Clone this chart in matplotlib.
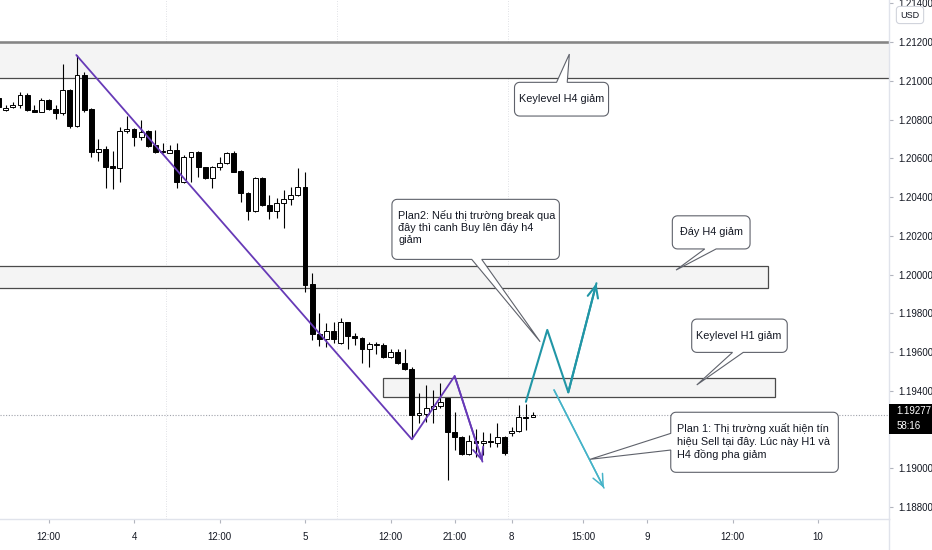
import numpy as np
import matplotlib
matplotlib.use("Agg")
import matplotlib.pyplot as plt
from matplotlib.patches import Rectangle, Polygon
from matplotlib.lines import Line2D
import matplotlib.transforms as mtransforms

plt.rcParams['font.family'] = ['Liberation Sans Narrow', 'Liberation Sans', 'DejaVu Sans']

# hourly bars, index 0 = day 4 00:00
bars = list(range(-19, 57))
opens = [1.20909, 1.20849, 1.20863, 1.20875, 1.20926, 1.20849, 1.20840, 1.20901,
         1.20853, 1.20835, 1.20952, 1.20766, 1.21030, 1.20853, 1.20634, 1.20646,
         1.20560, 1.20548, 1.20741, 1.20749, 1.20711, 1.20741, 1.20668, 1.20631,
         1.20629, 1.20643, 1.20479, 1.20608, 1.20634, 1.20553, 1.20496, 1.20556,
         1.20574, 1.20626, 1.20534, 1.20419, 1.20329, 1.20496, 1.20359, 1.20329,
         1.20371, 1.20390, 1.20410, 1.20450, 1.19949, 1.19691, 1.19666, 1.19708,
         1.19645, 1.19753, 1.19684, 1.19674, 1.19614, 1.19635, 1.19636, 1.19573,
         1.19602, 1.19542, 1.19511, 1.19275, 1.19280, 1.19306, 1.19323, 1.19361,
         1.19189, 1.19163, 1.19072, 1.19142, 1.19129, 1.19139, 1.19129, 1.19163,
         1.19180, 1.19194, 1.19266, 1.19266]
highs = [1.20921, 1.20875, 1.20892, 1.20943, 1.20935, 1.20875, 1.20909, 1.20904,
         1.20875, 1.21086, 1.20956, 1.21133, 1.21047, 1.20858, 1.20699, 1.20663,
         1.20639, 1.20760, 1.20818, 1.20755, 1.20797, 1.20746, 1.20746, 1.20677,
         1.20668, 1.20677, 1.20617, 1.20634, 1.20639, 1.20556, 1.20560, 1.20608,
         1.20631, 1.20636, 1.20539, 1.20427, 1.20502, 1.20502, 1.20410, 1.20393,
         1.20436, 1.20453, 1.20548, 1.20529, 1.20006, 1.19800, 1.19751, 1.19756,
         1.19774, 1.19756, 1.19700, 1.19679, 1.19653, 1.19653, 1.19645, 1.19614,
         1.19614, 1.19614, 1.19524, 1.19387, 1.19430, 1.19404, 1.19438, 1.19365,
         1.19292, 1.19167, 1.19172, 1.19201, 1.19187, 1.19184, 1.19232, 1.19167,
         1.19214, 1.19326, 1.19332, 1.19289]
lows = [1.20859, 1.20844, 1.20858, 1.20858, 1.20845, 1.20837, 1.20837, 1.20849,
        1.20803, 1.20823, 1.20755, 1.20763, 1.20840, 1.20608, 1.20587, 1.20445,
        1.20440, 1.20479, 1.20729, 1.20663, 1.20694, 1.20656, 1.20629, 1.20626,
        1.20626, 1.20445, 1.20474, 1.20479, 1.20505, 1.20491, 1.20445, 1.20539,
        1.20570, 1.20527, 1.20376, 1.20281, 1.20324, 1.20355, 1.20285, 1.20290,
        1.20238, 1.20359, 1.20405, 1.19911, 1.19662, 1.19631, 1.19627, 1.19645,
        1.19640, 1.19614, 1.19636, 1.19542, 1.19524, 1.19590, 1.19568, 1.19568,
        1.19538, 1.19507, 1.19149, 1.19234, 1.19240, 1.19234, 1.19309, 1.18939,
        1.19094, 1.19068, 1.19068, 1.19060, 1.19068, 1.19111, 1.19111, 1.19068,
        1.19167, 1.19189, 1.19197, 1.19263]
closes = [1.20866, 1.20861, 1.20875, 1.20926, 1.20849, 1.20840, 1.20901, 1.20853,
          1.20835, 1.20952, 1.20766, 1.21030, 1.20849, 1.20634, 1.20648, 1.20556,
          1.20548, 1.20742, 1.20751, 1.20711, 1.20737, 1.20663, 1.20634, 1.20639,
          1.20643, 1.20479, 1.20608, 1.20631, 1.20553, 1.20496, 1.20556, 1.20574,
          1.20626, 1.20531, 1.20419, 1.20329, 1.20496, 1.20359, 1.20329, 1.20371,
          1.20390, 1.20410, 1.20450, 1.19946, 1.19691, 1.19666, 1.19708, 1.19666,
          1.19753, 1.19683, 1.19674, 1.19614, 1.19640, 1.19641, 1.19573, 1.19602,
          1.19542, 1.19511, 1.19275, 1.19284, 1.19309, 1.19323, 1.19344, 1.19189,
          1.19160, 1.19072, 1.19142, 1.19129, 1.19141, 1.19134, 1.19163, 1.19080,
          1.19194, 1.19266, 1.19261, 1.19277]

time_ticks = [-12, 0, 12, 24, 36, 45, 53, 63, 72, 84, 96]
time_labels = ['12:00', '4', '12:00', '5', '12:00', '21:00', '8', '15:00', '9', '12:00', '10']
# 1.19200 sits under the last-price tag, so it is not listed
price_ticks = [1.188, 1.190, 1.194, 1.196, 1.198, 1.200, 1.202, 1.204,
               1.206, 1.208, 1.210, 1.212, 1.214]
session_breaks = [4.5, 28.5, 52.5]

# zones: (left bar, right bar, low, high)
zone_h4_key = (-25, 110, 1.21012, 1.21200)
zone_h4_bottom = (-25, 89.0, 1.19929, 1.20044)
zone_h1_key = (34.9, 90.0, 1.19367, 1.19468)

# drawn paths
purple_x = [-8.1, 39.0, 45.0, 48.9]
purple_y = [1.21133, 1.19149, 1.19476, 1.19034]
teal_x = [55.0, 58.0, 60.95, 64.9]
teal_y = [1.19343, 1.19714, 1.19392, 1.19955]
teal2_x = [58.95, 65.96]
teal2_y = [1.19404, 1.18898]

W, H = 932, 550
AX_RIGHT, AX_BOTTOM = 889, 519
XLIM = (-18.81, 105.96)
YLIM = (1.18738, 1.21417)

fig = plt.figure(figsize=(W / 100, H / 100), dpi=100)
ax = fig.add_axes([0, (H - AX_BOTTOM) / H, AX_RIGHT / W, AX_BOTTOM / H])
ax.set_xlim(*XLIM)
ax.set_ylim(*YLIM)

# zones
def zone(z, top_grey=False):
    x0, x1, lo, hi = z
    ax.add_patch(Rectangle((x0, lo), x1 - x0, hi - lo, facecolor='#f4f4f4',
                           edgecolor='#4a4a4a', lw=0.9, zorder=1))
    if top_grey:
        ax.plot([x0, x1], [hi, hi], color='#858585', lw=1.8, zorder=1.5)

zone(zone_h4_key, top_grey=True)
zone(zone_h4_bottom)
zone(zone_h1_key)

# grid-ish lines
for b in session_breaks:
    ax.axvline(b, color='#d6d8de', lw=0.6, ls=(0, (1, 2)), zorder=0.5)
last = closes[-1]
ax.axhline(last, color='#a0a3ab', lw=0.8, ls=(0, (1, 1.5)), zorder=0.8)

# candles
o = np.array(opens); h = np.array(highs); l = np.array(lows); c = np.array(closes)
x = np.array(bars)
up = c >= o
ax.vlines(x, l, h, color='black', lw=0.8, zorder=2)
body_lo = np.minimum(o, c)
body_h = np.maximum(np.abs(c - o), 0.00005)
ax.bar(x[up], body_h[up], bottom=body_lo[up], width=0.68, facecolor='white',
       edgecolor='black', lw=0.7, zorder=3)
ax.bar(x[~up], body_h[~up], bottom=body_lo[~up], width=0.68, facecolor='black',
       edgecolor='black', lw=0.7, zorder=3)

# arrows
def path_arrow(xs, ys, color, lw):
    ax.plot(xs, ys, color=color, lw=lw, zorder=4, solid_capstyle='round')
    ax.annotate('', xy=(xs[-1], ys[-1]), xytext=(xs[-2], ys[-2]),
                arrowprops=dict(arrowstyle='->,head_length=0.85,head_width=0.38',
                                color=color, lw=lw, shrinkA=0, shrinkB=0),
                zorder=4)

path_arrow(purple_x, purple_y, '#673ab7', 1.3)
path_arrow(teal_x, teal_y, '#2196a6', 1.5)
path_arrow(teal2_x, teal2_y, '#45b3c8', 1.1)

# callouts
def callout(box, side, base, tip, r=5, n=6):
    x0, x1, p0, p1 = box
    T = ax.transData
    X0, Y0 = T.transform((x0, p0))
    X1, Y1 = T.transform((x1, p1))
    tipd = T.transform(tip)
    pts = []

    def arc(cx, cy, a0, a1):
        for a in np.linspace(np.radians(a0), np.radians(a1), n):
            pts.append((cx + r * np.cos(a), cy + r * np.sin(a)))

    arc(X0 + r, Y1 - r, 180, 90)
    if side == 'top':
        b = sorted(T.transform([(base[0], p1), (base[1], p1)])[:, 0])
        pts += [(b[0], Y1), tuple(tipd), (b[1], Y1)]
    arc(X1 - r, Y1 - r, 90, 0)
    arc(X1 - r, Y0 + r, 0, -90)
    if side == 'bottom':
        b = sorted(T.transform([(base[0], p0), (base[1], p0)])[:, 0], reverse=True)
        pts += [(b[0], Y0), tuple(tipd), (b[1], Y0)]
    arc(X0 + r, Y0 + r, -90, -180)
    if side == 'left':
        b = sorted(T.transform([(x0, base[0]), (x0, base[1])])[:, 1])
        pts += [(X0, b[0]), tuple(tipd), (X0, b[1])]
    data_pts = T.inverted().transform(np.array(pts))
    ax.add_patch(Polygon(data_pts, closed=True, facecolor='white',
                         edgecolor='#5f626b', lw=0.8, zorder=6))

txt = dict(fontsize=7.8, color='#131722', zorder=7, linespacing=1.28)

callout((53.4, 66.6, 1.20818, 1.20992), 'top', (59.3, 60.8), (61.1, 1.21138))
ax.text(60.0, 1.20905, 'Keylevel H4 giảm', ha='center', va='center', **txt)

callout((36.2, 59.7, 1.20078, 1.20388), 'bottom', (47.4, 48.8), (57.0, 1.19653))
ax.text(37.1, 1.20244, 'Plan2: Nếu thị trường break qua\nđây thì canh Buy lên đáy h4\ngiảm',
        ha='left', va='center', **txt)

callout((75.55, 86.46, 1.20132, 1.20303), 'bottom', (80.1, 81.7), (76.07, 1.20023))
ax.text(81.0, 1.20219, 'Đáy H4 giảm', ha='center', va='center', **txt)

callout((78.27, 91.68, 1.19598, 1.19770), 'bottom', (84.0, 85.5), (78.98, 1.19430))
ax.text(84.9, 1.19685, 'Keylevel H1 giảm', ha='center', va='center', **txt)

callout((75.33, 98.85, 1.18979, 1.19289), 'left', (1.19094, 1.19180), (64.0, 1.19046))
ax.text(76.2, 1.19137, 'Plan 1: Thị trường xuất hiện tín\nhiệu Sell tại đây. Lúc này H1 và\nH4 đồng pha giảm',
        ha='left', va='center', **txt)

# axes styling
for s in ['top', 'left']:
    ax.spines[s].set_visible(False)
for s in ['bottom', 'right']:
    ax.spines[s].set_color('#e0e3eb')
    ax.spines[s].set_linewidth(1)
ax.yaxis.tick_right()
ax.set_yticks(price_ticks)
ax.set_yticklabels([f'{v:.5f}' for v in price_ticks])
ax.set_xticks(time_ticks)
ax.set_xticklabels(time_labels)
ax.tick_params(axis='y', length=3, pad=4, labelsize=7, colors='#131722')
ax.tick_params(axis='x', length=3, pad=6, labelsize=7, colors='#131722')
ax.tick_params(color='#b2b5be')

fig.add_artist(Line2D([AX_RIGHT / W] * 2, [0, (H - AX_BOTTOM) / H],
                      transform=fig.transFigure, color='#e0e3eb', lw=1))

# last price label
ppu = AX_BOTTOM / (YLIM[1] - YLIM[0])
blend = mtransforms.blended_transform_factory(ax.transAxes, ax.transData)
ax.add_patch(Rectangle((1.0, last - 19 / ppu), (W - AX_RIGHT) / AX_RIGHT, 30 / ppu,
                       transform=blend, facecolor='black', edgecolor='none',
                       clip_on=False, zorder=8))
ax.text(1.008, last + 3.5 / ppu, f'{last:.5f}', transform=blend, color='white',
        fontsize=7, ha='left', va='center', clip_on=False, zorder=9)
ax.text(1.008, last - 11.5 / ppu, '58:16', transform=blend, color='white',
        fontsize=7, ha='left', va='center', clip_on=False, zorder=9)

fig.text(910 / W, 1 - 15 / H, 'USD', ha='center', va='center', fontsize=6.5,
         color='#131722',
         bbox=dict(boxstyle='round,pad=0.45,rounding_size=0.35', fc='white',
                   ec='#d1d4dc', lw=0.8))

fig.savefig('out.png', dpi=100)
